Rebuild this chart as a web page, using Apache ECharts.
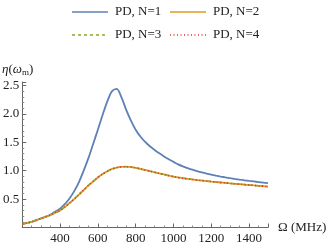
<!DOCTYPE html>
<html><head><meta charset="utf-8">
<script src="https://cdn.jsdelivr.net/npm/echarts@6/dist/echarts.min.js"></script>
<style>html,body{margin:0;padding:0;background:#fff}#c{width:332px;height:248px}</style>
</head><body><div id="c"></div>
<script>
var omega = [200,225,250,275,300,325,350,375,400,425,450,475,500,525,550,575,600,625,650,675,700,725,750,775,800,825,850,875,900,925,950,975,1000,1025,1050,1075,1100,1125,1150,1175,1200,1225,1250,1275,1300,1325,1350,1375,1400,1425,1450,1475,1500];
var etaN1 = [0.06,0.08,0.10,0.13,0.16,0.19,0.23,0.28,0.33,0.41,0.51,0.64,0.80,1.00,1.22,1.47,1.72,1.98,2.22,2.40,2.44,2.29,2.07,1.88,1.72,1.60,1.505,1.43,1.365,1.305,1.25,1.20,1.155,1.11,1.075,1.045,1.017,0.992,0.969,0.948,0.929,0.912,0.896,0.881,0.867,0.854,0.842,0.831,0.82,0.81,0.80,0.79,0.78];
var etaN2 = [0.06,0.08,0.10,0.13,0.16,0.19,0.22,0.26,0.30,0.36,0.43,0.50,0.58,0.66,0.74,0.81,0.88,0.94,0.99,1.03,1.055,1.068,1.07,1.064,1.05,1.032,1.012,0.992,0.972,0.952,0.933,0.913,0.895,0.88,0.868,0.856,0.845,0.835,0.826,0.817,0.808,0.80,0.792,0.784,0.776,0.769,0.762,0.755,0.748,0.741,0.734,0.727,0.72];
var etaN3 = [0.06,0.08,0.10,0.13,0.16,0.19,0.22,0.26,0.30,0.36,0.43,0.50,0.58,0.66,0.74,0.81,0.88,0.94,0.99,1.03,1.055,1.068,1.07,1.064,1.05,1.032,1.012,0.992,0.972,0.952,0.933,0.913,0.895,0.88,0.868,0.856,0.845,0.835,0.826,0.817,0.808,0.80,0.792,0.784,0.776,0.769,0.762,0.755,0.748,0.741,0.734,0.727,0.72];
var etaN4 = [0.06,0.08,0.10,0.13,0.16,0.19,0.22,0.26,0.30,0.36,0.43,0.50,0.58,0.66,0.74,0.81,0.88,0.94,0.99,1.03,1.055,1.068,1.07,1.064,1.05,1.032,1.012,0.992,0.972,0.952,0.933,0.913,0.895,0.88,0.868,0.856,0.845,0.835,0.826,0.817,0.808,0.80,0.792,0.784,0.776,0.769,0.762,0.755,0.748,0.741,0.734,0.727,0.72];
var seriesNames = ['PD, N=1','PD, N=2','PD, N=3','PD, N=4'];
var colors = ['#5e81b5','#e19c24','#8fb032','#f02a2a'];

function pairs(xs, ys){ return xs.map(function(x,i){return [x, ys[i]];}); }
var FONT = 'Liberation Serif';
var chart = echarts.init(document.getElementById('c'), null, {renderer:'canvas'});

function legendItem(x, y, i, dash){
  return [
    {type:'line', shape:{x1:x, y1:y, x2:x+36, y2:y}, style:{stroke:colors[i], lineWidth:1.6, lineDash:dash}},
    {type:'text', x:x+43, y:y, style:{text:seriesNames[i], fontFamily:FONT, fontSize:13, fill:'#222', verticalAlign:'middle', align:'left'}}
  ];
}

var option = {
  animation:false,
  textStyle:{fontFamily:FONT},
  grid:{left:21, right:64, top:82, bottom:20.5, containLabel:false},
  xAxis:{
    type:'value', min:200, max:1500, interval:200,
    name:'Ω (MHz)', nameLocation:'end', nameGap:10,
    nameTextStyle:{fontFamily:FONT, fontSize:13, color:'#222', verticalAlign:'middle'},
    axisLine:{show:true, onZero:false, lineStyle:{color:'#666', width:1}},
    axisTick:{show:true, inside:true, length:4, lineStyle:{color:'#666'}},
    minorTick:{show:true, splitNumber:4, length:2, lineStyle:{color:'#888'}},
    splitLine:{show:false},
    axisLabel:{fontFamily:FONT, fontSize:13, color:'#222', margin:5,
      formatter:function(v){ return (v===200||v===1500)?'':String(v); }}
  },
  yAxis:{
    type:'value', min:0, max:2.56, interval:0.5,
    axisLine:{show:true, onZero:false, lineStyle:{color:'#666', width:1}},
    axisTick:{show:true, inside:true, length:4, lineStyle:{color:'#666'}},
    minorTick:{show:true, splitNumber:5, length:2, lineStyle:{color:'#888'}},
    splitLine:{show:false},
    axisLabel:{fontFamily:FONT, fontSize:13, color:'#222', margin:3,
      formatter:function(v){ if(v===0) return ''; if(Math.abs(v*2-Math.round(v*2))>1e-6) return ''; return v.toFixed(1);}}
  },
  graphic:[].concat(
    legendItem(72, 12, 0, null),
    legendItem(170, 12, 1, null),
    legendItem(72, 35, 2, [3,3]),
    legendItem(170, 35, 3, [1,2.5]),
    [{type:'text', x:2, y:70, style:{
      text:'{i|η}{n|(}{i|ω}{s|m}{n|)}',
      verticalAlign:'middle',
      rich:{
        i:{fontFamily:FONT, fontStyle:'italic', fontSize:13, fill:'#222'},
        n:{fontFamily:FONT, fontSize:13, fill:'#222'},
        s:{fontFamily:FONT, fontSize:9, fill:'#222', verticalAlign:'bottom', padding:[6,0,0,0]}
      }}}]
  ),
  series:[
    {name:seriesNames[0], type:'line', data:pairs(omega, etaN1), smooth:0.3, showSymbol:false, lineStyle:{color:colors[0], width:1.8}, z:2},
    {name:seriesNames[1], type:'line', data:pairs(omega, etaN2), smooth:0.3, showSymbol:false, lineStyle:{color:colors[1], width:1.8}, z:3},
    {name:seriesNames[2], type:'line', data:pairs(omega, etaN3), smooth:0.3, showSymbol:false, lineStyle:{color:colors[2], width:1.6, type:[3,3]}, z:4},
    {name:seriesNames[3], type:'line', data:pairs(omega, etaN4), smooth:0.3, showSymbol:false, lineStyle:{color:colors[3], width:1.6, type:[1,2.5]}, z:5}
  ]
};
chart.setOption(option);
</script></body></html>
